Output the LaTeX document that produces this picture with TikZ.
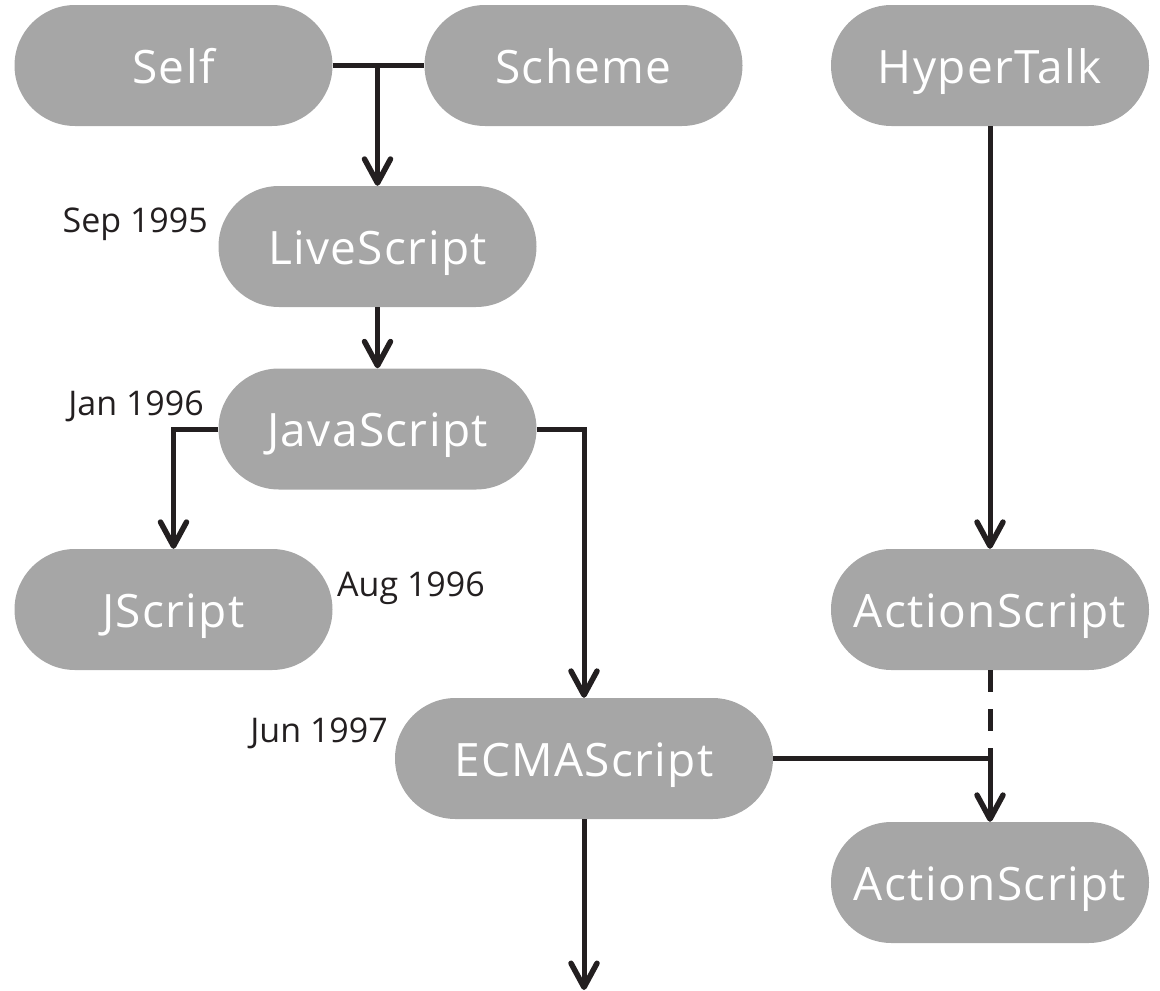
\documentclass[tikz,border=0pt]{standalone}
\usepackage{fontspec}
\setmainfont{Open Sans}
\newfontfamily\pillfont[LetterSpace=3]{Open Sans}
\usetikzlibrary{arrows.meta}
\definecolor{pillgray}{HTML}{A6A6A6}
\definecolor{ink}{HTML}{231F20}
\tikzset{
  pill/.style={draw=none, fill=pillgray, rounded corners=60.5pt,
    minimum width=318pt, minimum height=121pt, inner sep=0pt,
    text height=35pt, text depth=0pt, text=white,
    font=\pillfont\fontsize{46}{54}\selectfont},
  date/.style={inner sep=0pt, text=ink, font=\fontsize{34}{40}\selectfont},
  link/.style={draw=ink, line width=5pt},
  flow/.style={link, -{Straight Barb[length=24pt, width=26pt, line width=5.5pt, round]}},
}
\begin{document}
\begin{tikzpicture}[x=1pt, y=-1pt]
  \useasboundingbox (0,0) rectangle (1160,991);

  % languages
  \node[pill] (self)   at (173.5, 65.5)  {Self};
  \node[pill] (scheme) at (583.5, 65.5)  {Scheme};
  \node[pill] (hyper)  at (990, 65.5)    {HyperTalk};
  \node[pill] (live)   at (377.5, 246.5) {LiveScript};
  \node[pill] (js)     at (377.5, 429)   {JavaScript};
  \node[pill] (jscr)   at (173.5, 609.5) {JScript};
  \node[pill] (as1)    at (990, 609.5)   {ActionScript};
  \node[pill, minimum width=378pt] (ecma) at (584, 758.5) {ECMAScript};
  \node[pill] (as2)    at (990, 882.5)   {ActionScript};

  % release dates
  \node[date, anchor=base east] (d1) at (208, 232) {Sep 1995};
  \node[date, anchor=base east] (d2) at (204, 415) {Jan 1996};
  \node[date, anchor=base west] (d3) at (337, 596) {Aug 1996};
  \node[date, anchor=base east] (d4) at (388, 742) {Jun 1997};

  % junction points
  \coordinate (j1) at (377.5, 65.5);
  \coordinate (j2) at (as1.south |- ecma.east);
  \coordinate (out) at (584, 990);

  % lineage
  \draw[link] (self.east) -- (scheme.west);
  \draw[flow] (j1) -- (live.north);
  \draw[flow] (live.south) -- (js.north);
  \draw[flow] (js.west) -| (jscr.north);
  \draw[flow] (js.east) -| (ecma.north);
  \draw[flow] (hyper.south) -- (as1.north);
  \draw[link, dash pattern=on 22pt off 17pt] (as1.south) -- (j2);
  \draw[link] (ecma.east) -- (j2);
  \draw[flow] (j2) -- (as2.north);
  \draw[flow] (ecma.south) -- (out);
\end{tikzpicture}
\end{document}
